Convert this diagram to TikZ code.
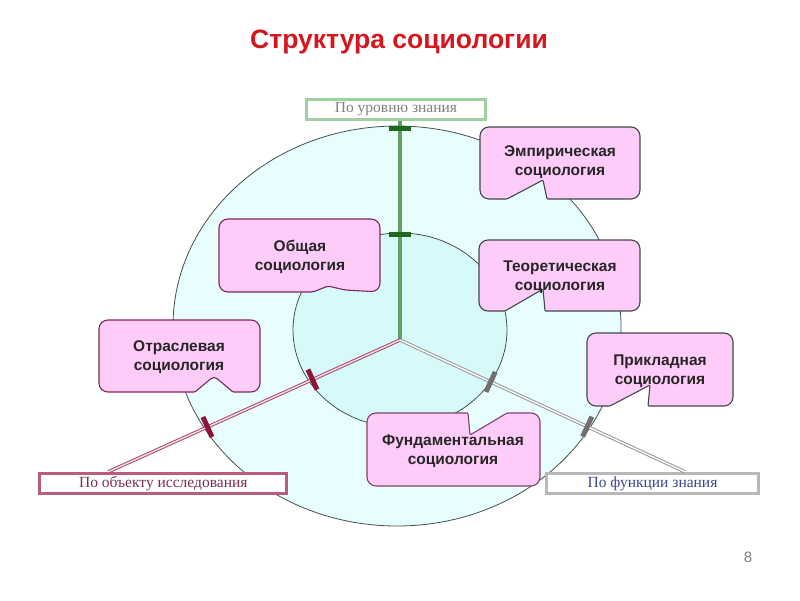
\documentclass[tikz,border=0pt]{standalone}
\usepackage{fontspec}
\setmainfont{Liberation Serif}
\setsansfont{Liberation Sans}
\definecolor{outerfill}{RGB}{232,253,253}
\definecolor{innerfill}{RGB}{214,250,250}
\definecolor{circline}{RGB}{70,80,80}
\definecolor{axgreen}{RGB}{96,160,96}
\definecolor{tickgreen}{RGB}{30,105,30}
\definecolor{lvlborder}{RGB}{160,208,160}
\definecolor{lvltext}{RGB}{128,128,128}
\definecolor{axred}{RGB}{170,72,106}
\definecolor{axredin}{RGB}{245,225,232}
\definecolor{tickred}{RGB}{140,22,58}
\definecolor{objborder}{RGB}{186,92,124}
\definecolor{objtext}{RGB}{125,45,80}
\definecolor{axgray}{RGB}{150,150,150}
\definecolor{tickgray}{RGB}{112,112,112}
\definecolor{funcborder}{RGB}{184,184,184}
\definecolor{functext}{RGB}{60,72,140}
\definecolor{pinkfill}{RGB}{255,204,250}
\definecolor{borderL}{RGB}{125,40,90}
\definecolor{borderR}{RGB}{64,72,72}
\definecolor{titlered}{RGB}{214,22,30}
\begin{document}
\begin{tikzpicture}[x=1pt,y=-1pt,
  circ/.style={draw=circline, line width=0.8pt},
  titletext/.style={font=\sffamily\bfseries\fontsize{26.5}{31}\selectfont, text=titlered, inner sep=0pt},
  calltext/.style={font=\sffamily\bfseries\fontsize{15.5}{19.5}\selectfont, text=black!85, align=center, inner sep=0pt},
  calloutL/.style={draw=borderL, fill=pinkfill, line width=1.1pt, rounded corners=9pt},
  calloutR/.style={draw=borderR, fill=pinkfill, line width=1.1pt, rounded corners=9pt},
  labelbox/.style={rectangle, fill=white, line width=3pt, inner sep=0pt, minimum height=20pt,
    font=\rmfamily\fontsize{15.5}{17}\selectfont},
  greenaxis/.style={draw=axgreen, line width=4pt},
  redaxis/.style={draw=axred, line width=1pt, double=axredin, double distance=1.4pt},
  grayaxis/.style={draw=axgray, line width=1pt, double=white, double distance=1.4pt},
  tickbar/.style={rectangle, inner sep=0pt, minimum width=5pt, minimum height=22pt, sloped}
]
\fill[white] (0,0) rectangle (800,600);
\useasboundingbox (0,0) rectangle (800,600);

% title
\node[titletext] (ttl) at (399,42) {Структура социологии};

% circles
\draw[circ, fill=outerfill] (397,326) ellipse [x radius=224pt, y radius=200pt];
\draw[circ, fill=innerfill] (400,330) ellipse [x radius=107pt, y radius=97pt];

% label boxes
\node[labelbox, draw=lvlborder, text=lvltext, minimum width=179pt] (lvl) at (396,109.5) {По уровню знания};
\node[labelbox, draw=objborder, text=objtext, minimum width=247pt] (obj) at (163.3,483.3) {По объекту исследования};
\node[labelbox, draw=funcborder, text=functext, minimum width=212pt] (func) at (652.5,483.3) {По функции знания};

% axes
\coordinate (c) at (400,340);
\coordinate (lvlend) at (c |- lvl.south);
\coordinate (objend) at ([xshift=70pt]obj.north west);
\coordinate (funcend) at ([xshift=140pt]func.north west);
\draw[greenaxis] (c) -- (lvlend);
\draw[redaxis] (c) -- (objend);
\draw[grayaxis] (c) -- (funcend);

% ticks
\path (c) -- (lvlend)
  node[tickbar, fill=tickgreen, pos=0.484] (tg1) {}
  node[tickbar, fill=tickgreen, pos=0.968] (tg2) {};
\path (c) -- (objend)
  node[tickbar, fill=tickred, pos=0.30] (tr1) {}
  node[tickbar, fill=tickred, pos=0.66] (tr2) {};
\path (c) -- (funcend)
  node[tickbar, fill=tickgray, pos=0.318] (ty1) {}
  node[tickbar, fill=tickgray, pos=0.657] (ty2) {};

% callouts
\draw[calloutR] (560,127) -- (640,127) -- (640,199) [rounded corners=1pt] -- (547,199) -- (543,180) -- (507,199)
  [rounded corners=9pt] -- (480,199) -- (480,127) -- cycle;
\node[calltext] (emp) at (560,162) {Эмпирическая\\социология};

\draw[calloutR] (560,240) -- (640,240) -- (640,311) [rounded corners=1pt] -- (545,311) -- (543,289) -- (505,311)
  [rounded corners=9pt] -- (479,311) -- (479,240) -- cycle;
\node[calltext] (theo) at (560,277) {Теоретическая\\социология};

\draw[calloutL] (300,219) -- (380,219) -- (380,292) [rounded corners=2pt] -- (345,290) -- (328,286) -- (313,292)
  [rounded corners=9pt] -- (219,292) -- (219,219) -- cycle;
\node[calltext] (gen) at (300,257) {Общая\\социология};

\draw[calloutL] (180,320) -- (260,320) -- (260,392) [rounded corners=1pt] -- (233,392) [rounded corners=4pt] -- (214,376)
  [rounded corners=1pt] -- (195,392) [rounded corners=9pt] -- (99,392) -- (99,320) -- cycle;
\node[calltext] (branch) at (179,357) {Отраслевая\\социология};

\draw[calloutR] (660,333) -- (733,333) -- (733,406) [rounded corners=1pt] -- (648,406) -- (650,385) -- (610,406)
  [rounded corners=9pt] -- (587,406) -- (587,333) -- cycle;
\node[calltext] (appl) at (660,371) {Прикладная\\социология};

\draw[calloutL, draw=borderL!70!gray] (453,486) -- (367,486) -- (367,413) [rounded corners=1pt] -- (468,413) -- (470,435) -- (507,413)
  [rounded corners=9pt] -- (540,413) -- (540,486) -- cycle;
\node[calltext] (fund) at (453,451) {Фундаментальная\\социология};

% page number
\node[font=\sffamily\fontsize{15}{18}\selectfont, text=gray] (pg) at (748,557) {8};
\end{tikzpicture}
\end{document}
